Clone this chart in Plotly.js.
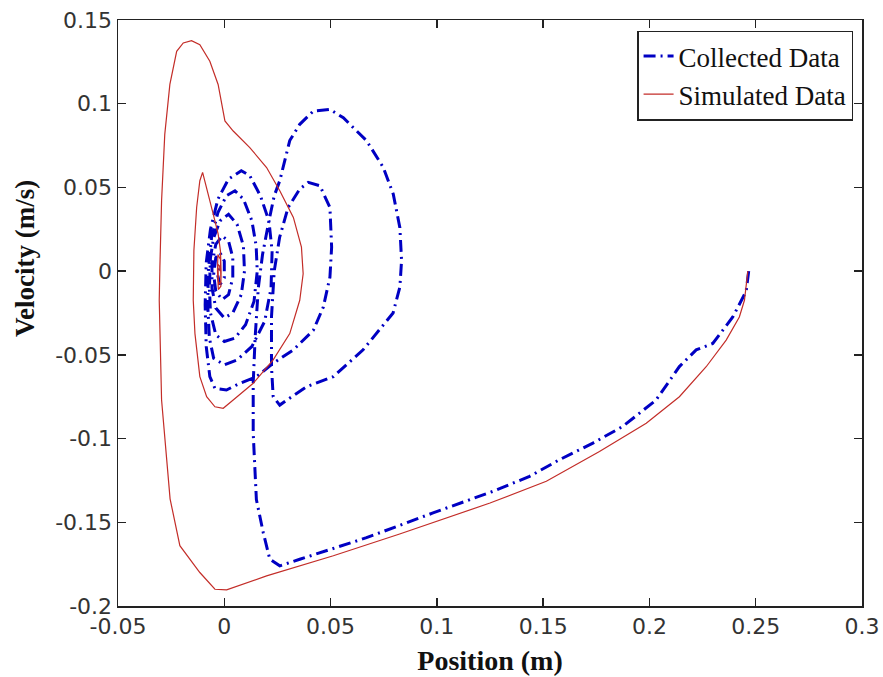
<!DOCTYPE html>
<html>
<head>
<meta charset="utf-8">
<script src="https://cdn.plot.ly/plotly-3.0.1.min.js"></script>
<style>html,body{margin:0;padding:0;background:#fff;}#chart{width:883px;height:677px;}</style>
</head>
<body>
<div id="chart"></div>
<script>
// Collected Data (position m, velocity m/s)
const collectedX = [0.2467,0.2455,0.2392,0.2298,0.222,0.2141,0.2031,0.1874,0.1734,0.1577,0.1436,0.1264,0.0982,0.0669,0.0355,0.0261,0.0214,0.0183,0.0151,0.0136,0.0136,
  0.0145,0.016,0.018,0.021,0.0235,0.0261,0.0308,0.0355,0.0419,0.0497,0.056,0.067,0.0748,0.0795,0.0826,0.0834,0.0826,0.0794,0.0653,0.0513,0.0388,0.0294,0.0261,0.023,0.0222,0.0222,
  0.0235,0.026,0.03,0.0355,0.0395,0.045,0.0497,0.0505,0.0497,0.0466,0.0419,0.0325,0.023,0.0152,0.0073,0.001,-0.0044,-0.0068,
  -0.0085,-0.009,-0.0085,-0.0065,-0.003,0.002,0.008,0.012,0.017,0.021,0.0225,0.022,0.019,0.013,0.006,0.0,-0.005,-0.007,
  -0.0078,-0.0075,-0.006,-0.003,0.001,0.005,0.009,0.013,0.015,0.0155,0.014,0.01,0.005,0.0,-0.004,-0.0065,
  -0.007,-0.0065,-0.005,-0.002,0.002,0.006,0.009,0.0095,0.008,0.004,0.0,-0.004,-0.0058,
  -0.0058,-0.004,-0.001,0.002,0.004,0.004,0.002,-0.001,-0.004,-0.005,-0.004,-0.002,0.0,0.0,-0.002,-0.003,-0.0025];
const collectedV = [0,-0.012,-0.0274,-0.0432,-0.047,-0.057,-0.077,-0.0928,-0.1027,-0.1126,-0.1226,-0.1315,-0.1444,-0.1592,-0.1721,-0.176,-0.172,-0.156,-0.1364,-0.0967,-0.067,
  -0.04,-0.01,0.01,0.03,0.045,0.054,0.078,0.0877,0.0956,0.0966,0.0916,0.0778,0.0619,0.046,0.026,0.0064,-0.0095,-0.025,-0.047,-0.063,-0.069,-0.077,-0.080,-0.075,-0.057,-0.0274,
  0.0,0.02,0.038,0.049,0.053,0.051,0.038,0.0143,-0.0036,-0.0214,-0.0353,-0.047,-0.055,-0.063,-0.067,-0.071,-0.070,-0.063,
  -0.045,-0.02,0.005,0.025,0.043,0.055,0.06,0.057,0.045,0.03,0.012,-0.01,-0.03,-0.045,-0.053,-0.056,-0.052,-0.04,
  -0.02,0.0,0.02,0.035,0.045,0.048,0.043,0.03,0.015,0.0,-0.018,-0.032,-0.04,-0.042,-0.038,-0.025,
  -0.01,0.008,0.02,0.03,0.034,0.028,0.015,0.0,-0.014,-0.025,-0.028,-0.022,-0.01,
  0.004,0.016,0.021,0.018,0.008,-0.004,-0.014,-0.017,-0.012,-0.002,0.008,0.011,0.006,-0.004,-0.008,-0.003,0.002];

// Simulated Data (position m, velocity m/s)
const simulatedX = [0.2463,0.2447,0.2423,0.2361,0.2267,0.2141,0.1985,0.1765,0.1515,0.125,0.0825,0.0513,0.0199,0.0011,-0.0044,-0.0115,-0.0209,-0.0255,-0.0295,-0.0306,
  -0.0303,-0.0295,-0.028,-0.0256,-0.0224,-0.0193,-0.0154,-0.0115,-0.0068,-0.0029,0.0003,0.0042,0.012,0.0199,0.0261,0.0325,0.0363,0.0371,0.0355,0.0308,0.023,0.0136,0.0042,-0.0005,-0.0044,-0.0083,-0.0115,-0.0138,-0.0146,
  -0.0143,-0.013,-0.0115,-0.0102,-0.0083,-0.0052,-0.0029,-0.0018,-0.0015,-0.0016,-0.0028,-0.0032,-0.003,-0.0018,-0.0016,-0.0027,-0.003,-0.0022,-0.002];
const simulatedV = [0,-0.0174,-0.0274,-0.0412,-0.0571,-0.075,-0.0908,-0.1077,-0.1255,-0.1385,-0.157,-0.170,-0.182,-0.1904,-0.190,-0.180,-0.164,-0.136,-0.077,-0.0174,
  0.0024,0.042,0.0817,0.1115,0.1313,0.1363,0.1377,0.1353,0.1254,0.1115,0.0897,0.0837,0.0738,0.0619,0.048,0.0321,0.0143,-0.0016,-0.0174,-0.0373,-0.053,-0.067,-0.077,-0.0819,-0.081,-0.075,-0.063,-0.0373,-0.0174,
  0.0123,0.038,0.054,0.059,0.05,0.034,0.0222,0.012,0.0,-0.009,-0.011,0.0,0.01,0.007,-0.006,-0.008,0.004,0.003,0.0];

const xTicks = [-0.05,0,0.05,0.1,0.15,0.2,0.25,0.3];
const xTickLabels = ["-0.05","0","0.05","0.1","0.15","0.2","0.25","0.3"];
const yTicks = [-0.2,-0.15,-0.1,-0.05,0,0.05,0.1,0.15];
const yTickLabels = ["-0.2","-0.15","-0.1","-0.05","0","0.05","0.1","0.15"];

const traces = [
  {x: collectedX, y: collectedV, type: 'scatter', mode: 'lines', name: 'Collected Data',
   line: {color: 'rgb(0,0,195)', width: 3, dash: '12px,5px,2px,5px'}},
  {x: simulatedX, y: simulatedV, type: 'scatter', mode: 'lines', name: 'Simulated Data',
   line: {color: 'rgb(195,45,40)', width: 1.2}}
];

const tickFont = {family: '"DejaVu Sans", Verdana, sans-serif', size: 22, color: '#333'};
const titleFont = {family: '"Liberation Serif", "Times New Roman", serif', size: 28, color: '#111'};

const layout = {
  width: 883, height: 677,
  margin: {l: 118, r: 21, t: 20, b: 71},
  paper_bgcolor: '#fff', plot_bgcolor: '#fff',
  showlegend: true,
  xaxis: {
    range: [-0.05, 0.3], tickvals: xTicks, ticktext: xTickLabels,
    ticks: 'inside', ticklen: 8, tickwidth: 1.5, tickcolor: '#222',
    showline: true, linecolor: '#222', linewidth: 1.5, mirror: 'ticks',
    showgrid: false, zeroline: false, tickfont: tickFont,
    title: {text: '<b>Position (m)</b>', font: titleFont, standoff: 12}
  },
  yaxis: {
    range: [-0.2, 0.15], tickvals: yTicks, ticktext: yTickLabels,
    ticks: 'inside', ticklen: 8, tickwidth: 1.5, tickcolor: '#222',
    showline: true, linecolor: '#222', linewidth: 1.5, mirror: 'ticks',
    showgrid: false, zeroline: false, tickfont: tickFont
  },
  annotations: [{
    text: '<b>Velocity (m/s)</b>', textangle: -90, showarrow: false,
    xref: 'paper', yref: 'paper', x: -0.125, y: 0.592, xanchor: 'center', yanchor: 'middle',
    font: {family: '"Liberation Serif", "Times New Roman", serif', size: 27, color: '#111'}
  }],
  legend: {
    x: 0.988, y: 0.982, xanchor: 'right', yanchor: 'top',
    bgcolor: '#fff', bordercolor: '#222', borderwidth: 1.5,
    font: {family: '"Liberation Serif", "Times New Roman", serif', size: 27, color: '#111'},
    tracegroupgap: 0
  }
};

Plotly.newPlot('chart', traces, layout, {displayModeBar: false, staticPlot: true});
</script>
</body>
</html>
